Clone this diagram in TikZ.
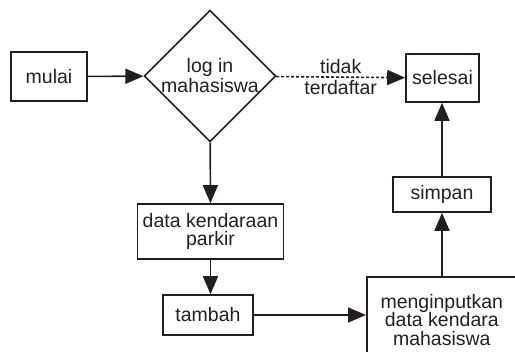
\documentclass[tikz,border=0pt]{standalone}
\usepackage{fontspec}
\setmainfont{Liberation Sans}
\usetikzlibrary{shapes.geometric,arrows.meta}
\definecolor{ink}{HTML}{231F20}
\tikzset{
  box/.style={draw=ink, line width=1.6pt, text=ink, align=center, inner sep=0pt,
    font=\fontsize{19.5}{18.5}\selectfont},
  dia/.style={draw=ink, line width=1.6pt, text=ink, align=center, diamond, aspect=1,
    inner sep=0pt, minimum width=131pt, minimum height=131pt,
    font=\fontsize{19.5}{20}\selectfont},
  flow/.style={draw=ink, line width=1.6pt, -{Triangle[length=18pt,width=15pt]}},
  lbl/.style={text=ink, font=\fontsize{19.5}{18.5}\selectfont, inner sep=2.5pt},
}
\begin{document}
\begin{tikzpicture}[x=1pt,y=-1pt]
\useasboundingbox (0,0) rectangle (515,352);
\node[box, minimum width=76pt, minimum height=49pt] (mulai) at (49,76.5) {mulai};
\node[dia] (login) at (210,76) {log in\\mahasiswa};
\node[box, minimum width=73pt, minimum height=48pt] (selesai) at (442.5,78) {selesai};
\node[box, minimum width=146pt, minimum height=55pt] (data) at (210.5,231.5) {data kendaraan\\parkir};
\node[box, minimum width=90pt, minimum height=40pt] (tambah) at (208,315) {tambah};
\node[box, minimum width=98pt, minimum height=35pt] (simpan) at (442,194.5) {simpan};
\node[box, minimum width=150pt, minimum height=86pt, anchor=north west] (input) at (366,276)
  {menginputkan\\data kendara\\mahasiswa};
\draw[flow] (mulai) -- (login);
\draw[flow, dash pattern=on 3pt off 2pt] (login) -- node[lbl, above] {tidak} node[lbl, below] {terdaftar} (selesai);
\draw[flow] (login) -- (data);
\draw[flow] (data) -- (data |- tambah.north);
\draw[flow] (tambah) -- (tambah -| input.west);
\draw[flow] (simpan |- input.north) -- (simpan);
\draw[flow] (simpan) -- (simpan |- selesai.south);
\end{tikzpicture}
\end{document}
